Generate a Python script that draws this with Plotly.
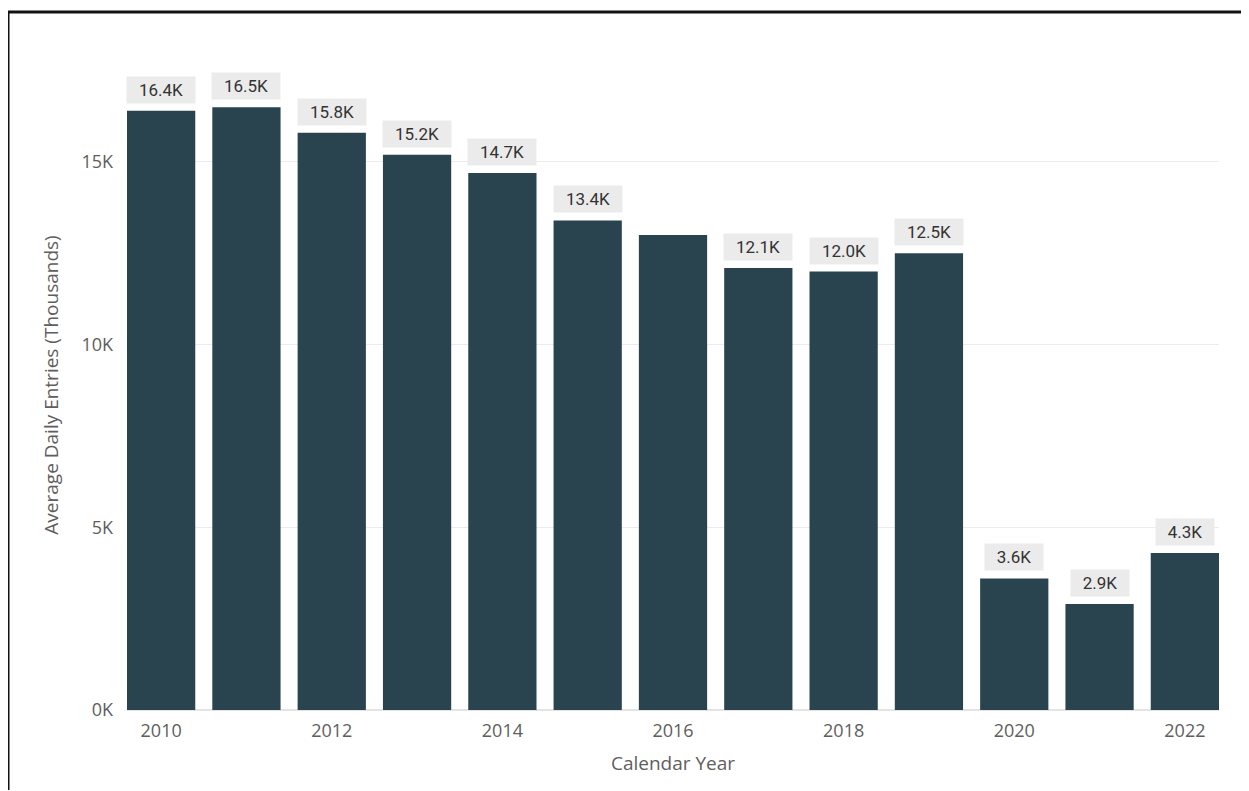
import plotly.graph_objects as go

years = ["2010", "2011", "2012", "2013", "2014", "2015", "2016",
         "2017", "2018", "2019", "2020", "2021", "2022"]
entries = [16400, 16500, 15800, 15200, 14700, 13400, 13000,
           12100, 12000, 12500, 3600, 2900, 4300]
labels = ["16.4K", "16.5K", "15.8K", "15.2K", "14.7K", "13.4K", "",
          "12.1K", "12.0K", "12.5K", "3.6K", "2.9K", "4.3K"]
x_ticks = ["2010", "2012", "2014", "2016", "2018", "2020", "2022"]
y_ticks = [0, 5000, 10000, 15000]
y_tick_text = ["0K", "5K", "10K", "15K"]

BAR = "#29444f"
TXT = "#605e5c"

# page has an 8px body margin, so the figure is offset by 8px
W, H = 1241, 783
L, R, T, B = 119, 30, 52, 81

fig = go.Figure(go.Bar(x=years, y=entries, marker=dict(color=BAR, line=dict(width=0)),
                       hoverinfo="skip"))

annotations = []
for i, (v, lab) in enumerate(zip(entries, labels)):
    if not lab:
        continue
    annotations.append(dict(x=i, y=v, xref="x", yref="y", text=lab, showarrow=False,
                            yanchor="bottom", yshift=7, bgcolor="#ebebeb", borderpad=3,
                            width=10 * len(lab) + 12, height=20,
                            font=dict(family="Roboto", size=17, color="#333333")))


def px(xp):
    return (xp - 8 - L) / (W - L - R)


def py(yp):
    return (H - B - (yp - 8)) / (H - T - B)


shapes = [
    dict(type="line", xref="paper", yref="paper", x0=px(8), x1=px(1248), y0=py(12), y1=py(12),
         line=dict(color="#111111", width=3), layer="above"),
    dict(type="line", xref="paper", yref="paper", x0=px(8), x1=px(8), y0=py(12), y1=py(790),
         line=dict(color="#111111", width=3), layer="above"),
    dict(type="line", xref="paper", yref="paper", x0=px(1247), x1=px(1247), y0=py(12), y1=py(790),
         line=dict(color="#c8c8c8", width=1.5), layer="above"),
]

fig.update_layout(
    width=W, height=H,
    margin=dict(l=L, r=R, t=T, b=B),
    paper_bgcolor="white", plot_bgcolor="white",
    bargap=0.2, showlegend=False,
    font=dict(family="Open Sans", color=TXT),
    annotations=annotations,
    shapes=shapes,
    xaxis=dict(type="category", range=[-0.4, 12.4], tickmode="array",
               tickvals=x_ticks, ticktext=x_ticks, showgrid=False,
               showline=False, ticks="", tickfont=dict(size=18, color=TXT),
               ticklabelstandoff=8,
               title=dict(text="Calendar Year", font=dict(size=19, color=TXT), standoff=15)),
    yaxis=dict(range=[0, 17790], tickmode="array", tickvals=y_ticks,
               ticktext=y_tick_text, showgrid=True, gridcolor="#ececec",
               gridwidth=1, zeroline=True, zerolinecolor="#e4e4e4",
               ticks="", tickfont=dict(size=18, color=TXT), ticklabelstandoff=13,
               title=dict(text="Average Daily Entries (Thousands)",
                          font=dict(size=19, color=TXT), standoff=17)),
)

fig.write_html("out.html")
